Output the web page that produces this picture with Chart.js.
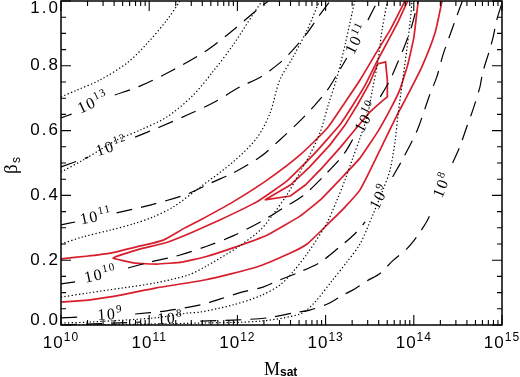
<!DOCTYPE html>
<html>
<head>
<meta charset="utf-8">
<script src="https://cdn.jsdelivr.net/npm/chart.js@4.4.1/dist/chart.umd.min.js"></script>
<style>
  html, body { margin: 0; padding: 0; background: #fff; }
  canvas { display: block; }
</style>
</head>
<body>
<canvas id="chart" width="520" height="377"></canvas>
<script>
// each contour: [log10 Msat, beta_s]; null = break in the line (where a label sits)
const redOuterUpper = [[10.00,0.204],[10.31,0.213],[10.56,0.222],[10.90,0.244],[11.16,0.262],[11.40,0.299],[11.58,0.324],[11.95,0.380],[12.34,0.448],[12.71,0.525],[13.02,0.608],[13.20,0.679],[13.39,0.756],[13.58,0.843],[13.73,0.910],[13.82,0.957],[13.90,1.0]];
const red2Sigma = [[13.93,1.0],[13.82,0.935],[13.70,0.873],[13.58,0.812],[13.45,0.741],[13.31,0.679],[13.16,0.617],[12.86,0.525],[12.56,0.444],[12.22,0.380],[11.80,0.324],[11.47,0.284],[11.18,0.253],[10.90,0.235],[10.59,0.207],[10.84,0.191],[11.09,0.188],[11.37,0.194],[11.63,0.210],[11.95,0.238],[12.34,0.278],[12.71,0.336],[12.94,0.386],[13.16,0.448],[13.39,0.515],[13.59,0.596],[13.73,0.664],[13.84,0.725],[13.93,0.802],[14.00,0.886],[14.05,1.0]];
const red1Sigma = [[12.31,0.386],[12.60,0.432],[12.82,0.488],[13.05,0.556],[13.22,0.617],[13.36,0.679],[13.50,0.747],[13.59,0.806],[13.68,0.812],[13.70,0.756],[13.70,0.704],[13.64,0.691],[13.50,0.657],[13.33,0.602],[13.16,0.546],[12.96,0.485],[12.77,0.432],[12.60,0.398],[12.31,0.386]];
const redOuterLower = [[10.00,0.071],[10.31,0.077],[10.69,0.093],[11.07,0.114],[11.63,0.139],[12.22,0.179],[12.60,0.222],[12.79,0.250],[13.05,0.318],[13.22,0.364],[13.39,0.417],[13.59,0.525],[13.81,0.648],[13.90,0.694],[14.09,0.796],[14.24,0.901],[14.32,1.0]];

const dashed13 = [[10.00,0.639],[10.12,0.651],null,[10.61,0.710],[10.90,0.738],[11.27,0.787],[11.66,0.849],[11.95,0.910],[12.22,0.972],[12.35,1.0]];
const dashed12 = [[10.00,0.488],[10.31,0.518],null,[10.84,0.580],[11.12,0.611],[11.43,0.648],[11.72,0.685],[12.03,0.735],[12.26,0.765],[12.48,0.809],[12.63,0.849],[12.79,0.901],[12.91,0.948],[13.05,1.0]];
const dashed11 = [[10.00,0.309],[10.16,0.318],null,[10.63,0.346],[11.01,0.370],[11.43,0.404],[11.72,0.441],[11.95,0.469],[12.26,0.519],[12.48,0.571],[12.71,0.630],[12.86,0.673],[13.02,0.725],[13.16,0.787],[13.24,0.824],null,[13.48,0.941],[13.59,1.0]];
const dashed10 = [[10.00,0.127],[10.16,0.133],null,[10.76,0.176],[11.01,0.194],[11.35,0.216],[11.66,0.244],[11.95,0.275],[12.26,0.318],[12.52,0.361],[12.74,0.398],[12.97,0.457],[13.20,0.525],[13.33,0.583],null,[13.62,0.704],[13.73,0.756],[13.82,0.812],[13.90,0.864],[13.98,0.926],[14.05,1.0]];
const dashed9 = [[10.00,0.022],[10.27,0.025],null,[10.84,0.034],[11.18,0.043],[11.58,0.062],[11.80,0.080],[12.06,0.102],[12.29,0.117],[12.48,0.139],[12.71,0.164],[12.94,0.194],[13.16,0.241],[13.33,0.281],[13.45,0.318],null,[13.76,0.457],[13.88,0.515],[14.04,0.602],[14.18,0.710],[14.26,0.765],[14.33,0.833],[14.41,0.895],[14.48,0.948],[14.55,1.0]];
const dashed8 = [[10.00,0.0],[10.90,0.009],null,[11.58,0.012],[11.95,0.015],[12.34,0.022],[12.63,0.037],[12.82,0.046],[13.02,0.065],[13.20,0.093],[13.33,0.111],[13.47,0.136],[13.62,0.160],[13.76,0.198],[13.92,0.235],[14.04,0.275],[14.15,0.321],[14.22,0.361],null,[14.44,0.500],[14.52,0.549],[14.60,0.611],[14.67,0.664],[14.75,0.735],[14.78,0.778],[14.86,0.849],[14.90,0.889],[14.94,0.941],[15.0,0.994]];

const dottedA = [[10.00,0.704],[10.18,0.725],[10.44,0.756],[10.75,0.809],[10.98,0.870],[11.20,0.941],[11.35,1.0]];
const dottedB = [[10.00,0.472],[10.25,0.509],[10.44,0.540],[10.63,0.571],[10.90,0.602],[11.20,0.642],[11.49,0.707],[11.72,0.781],[11.95,0.864],[12.18,0.960],[12.28,1.0]];
const dottedC = [[10.00,0.250],[10.25,0.272],[10.56,0.293],[10.82,0.312],[11.04,0.333],[11.27,0.364],[11.58,0.426],[11.95,0.503],[12.22,0.577],[12.37,0.654],[12.48,0.756],[12.63,0.827],[12.79,0.910],[12.93,1.0]];
const dottedD = [[10.00,0.086],[10.31,0.099],[10.69,0.114],[11.07,0.130],[11.44,0.154],[11.63,0.179],[11.99,0.238],[12.26,0.293],[12.40,0.340],[12.56,0.401],[12.71,0.472],[12.82,0.525],[12.94,0.596],[13.03,0.679],[13.13,0.765],[13.22,0.864],[13.33,1.0]];
const dottedE = [[10.00,0.006],[10.31,0.009],[11.07,0.022],[11.44,0.037],[11.58,0.040],[11.95,0.062],[12.26,0.090],[12.48,0.123],[12.63,0.164],[12.82,0.231],[13.02,0.318],[13.13,0.386],[13.22,0.448],[13.30,0.509],[13.39,0.577],[13.47,0.642],[13.53,0.725],[13.59,0.809],[13.64,0.910],[13.70,1.0]];
const dottedF = [[10.00,0.0],[11.01,0.003],[11.58,0.006],[12.26,0.012],[12.71,0.034],[12.86,0.065],[13.08,0.139],[13.24,0.194],[13.39,0.250],[13.54,0.343],[13.65,0.417],[13.73,0.478],[13.79,0.571],[13.82,0.648],[13.87,0.747],[13.92,0.849],[13.96,0.941],[13.98,1.0]];

// contour labels: exponent, position [log10 Msat, beta_s], text angle in degrees
const contourLabels = [
  ['13', 10.37, 0.685, -25], ['12', 10.58, 0.549, -18], ['11', 10.40, 0.333, -12],
  ['10', 10.45, 0.154, -12], ['9', 10.56, 0.031, -4], ['8', 11.24, 0.018, -3],
  ['11', 13.36, 0.883, -63], ['10', 13.47, 0.642, -62], ['9', 13.62, 0.395, -62],
  ['8', 14.33, 0.432, -68]
];

const xDecades = [10, 11, 12, 13, 14, 15];
const yTicks = [0.0, 0.2, 0.4, 0.6, 0.8, 1.0];

const RED = '#d81e2c';

const toPoints = arr => arr.map(p => p ? { x: Math.pow(10, p[0]), y: p[1] } : { x: NaN, y: NaN });

const line = (data, color, width, dash, tension) => ({
  data: toPoints(data),
  showLine: true,
  borderColor: color,
  borderWidth: width,
  borderDash: dash,
  pointRadius: 0,
  fill: false,
  spanGaps: false,
  tension: tension
});

const dotted = [1.3, 2.3];
const dashed = [16, 9];

const datasets = [
  line(dottedA, '#000', 1.2, dotted, 0.3),
  line(dottedB, '#000', 1.2, dotted, 0.3),
  line(dottedC, '#000', 1.2, dotted, 0.3),
  line(dottedD, '#000', 1.2, dotted, 0.3),
  line(dottedE, '#000', 1.2, dotted, 0.3),
  line(dottedF, '#000', 1.2, dotted, 0.3),
  line(dashed13, '#000', 1.2, dashed, 0.3),
  line(dashed12, '#000', 1.2, dashed, 0.3),
  line(dashed11, '#000', 1.2, dashed, 0.3),
  line(dashed10, '#000', 1.2, dashed, 0.3),
  line(dashed9, '#000', 1.2, dashed, 0.3),
  line(dashed8, '#000', 1.2, dashed, 0.3),
  line(redOuterUpper, RED, 1.7, [], 0.2),
  line(red2Sigma, RED, 1.7, [], 0.1),
  line(red1Sigma, RED, 1.7, [], 0),
  line(redOuterLower, RED, 1.7, [], 0.2)
];

// draw "10" with a raised exponent, centred on (0,0) of current transform
const drawPow = (ctx, exp, baseFont, expFont, rise, spacing) => {
  ctx.font = baseFont;
  ctx.letterSpacing = spacing + 'px';
  const wb = ctx.measureText('10').width;
  ctx.font = expFont;
  const we = ctx.measureText(exp).width;
  const x0 = -(wb + we) / 2;
  ctx.font = baseFont;
  ctx.fillText('10', x0, 0);
  ctx.font = expFont;
  ctx.fillText(exp, x0 + wb, -rise);
  ctx.letterSpacing = '0px';
};

const axesPlugin = {
  id: 'idlAxes',
  afterDatasetsDraw(chart) {
    const { ctx, chartArea: a, scales } = chart;
    const xs = scales.x, ys = scales.y;
    ctx.save();
    ctx.strokeStyle = '#000';
    ctx.fillStyle = '#000';

    // contour labels
    ctx.textBaseline = 'middle';
    contourLabels.forEach(([exp, lm, b, ang]) => {
      ctx.save();
      ctx.translate(xs.getPixelForValue(Math.pow(10, lm)), ys.getPixelForValue(b));
      ctx.rotate(ang * Math.PI / 180);
      drawPow(ctx, exp, '16px "Liberation Serif"', '11px "Liberation Serif"', 5, 1.5);
      ctx.restore();
    });

    // frame
    ctx.lineWidth = 1.5;
    ctx.strokeRect(a.left, a.top, a.right - a.left, a.bottom - a.top);

    // x ticks (log decades + minor), bottom and top
    ctx.lineWidth = 1.1;
    ctx.beginPath();
    xDecades.forEach((d, i) => {
      const px = xs.getPixelForValue(Math.pow(10, d));
      ctx.moveTo(px, a.bottom); ctx.lineTo(px, a.bottom - 10);
      ctx.moveTo(px, a.top); ctx.lineTo(px, a.top + 10);
      if (i < xDecades.length - 1) {
        for (let k = 2; k < 10; k++) {
          const pm = xs.getPixelForValue(k * Math.pow(10, d));
          ctx.moveTo(pm, a.bottom); ctx.lineTo(pm, a.bottom - 5);
          ctx.moveTo(pm, a.top); ctx.lineTo(pm, a.top + 5);
        }
      }
    });
    // y ticks, left and right
    for (let v = 0; v <= 1.0001; v += 0.05) {
      const py = ys.getPixelForValue(v);
      const major = Math.abs(v * 5 - Math.round(v * 5)) < 1e-6;
      const len = major ? 10 : 5;
      ctx.moveTo(a.left, py); ctx.lineTo(a.left + len, py);
      ctx.moveTo(a.right, py); ctx.lineTo(a.right - len, py);
    }
    ctx.stroke();

    // x tick labels
    ctx.textBaseline = 'alphabetic';
    xDecades.forEach(d => {
      const px = xs.getPixelForValue(Math.pow(10, d));
      ctx.save();
      ctx.translate(px, 348);
      drawPow(ctx, String(d), '17px "Liberation Sans"', '12px "Liberation Sans"', 7, 1);
      ctx.restore();
    });

    // y tick labels
    ctx.font = '17px "Liberation Sans"';
    ctx.letterSpacing = '2px';
    ctx.textAlign = 'right';
    ctx.textBaseline = 'middle';
    yTicks.forEach(v => {
      const py = Math.min(Math.max(ys.getPixelForValue(v), 8), 320);
      ctx.fillText(v.toFixed(1), 60, py);
    });
    ctx.letterSpacing = '0px';
    ctx.textAlign = 'left';

    // axis titles
    ctx.textBaseline = 'alphabetic';
    ctx.font = '18px "Liberation Serif"';
    ctx.fillText('M', 264, 375);
    ctx.font = 'bold 12px "Liberation Sans"';
    ctx.fillText('sat', 280, 376);

    ctx.save();
    ctx.translate(17, 174);
    ctx.rotate(-Math.PI / 2);
    ctx.font = '19px "Liberation Serif"';
    ctx.fillText('\u03b2', 0, 0);
    ctx.font = '12px "Liberation Sans"';
    ctx.fillText('s', 11, 3);
    ctx.restore();

    ctx.restore();
  }
};

new Chart(document.getElementById('chart'), {
  type: 'scatter',
  data: { datasets: datasets },
  options: {
    responsive: false,
    devicePixelRatio: 1,
    animation: false,
    layout: { padding: { left: 61, right: 18, top: 1, bottom: 52 } },
    plugins: { legend: { display: false }, tooltip: { enabled: false } },
    scales: {
      x: { type: 'logarithmic', min: 1e10, max: 1e15, display: false },
      y: { type: 'linear', min: 0, max: 1.0, display: false }
    }
  },
  plugins: [axesPlugin]
});
</script>
</body>
</html>
